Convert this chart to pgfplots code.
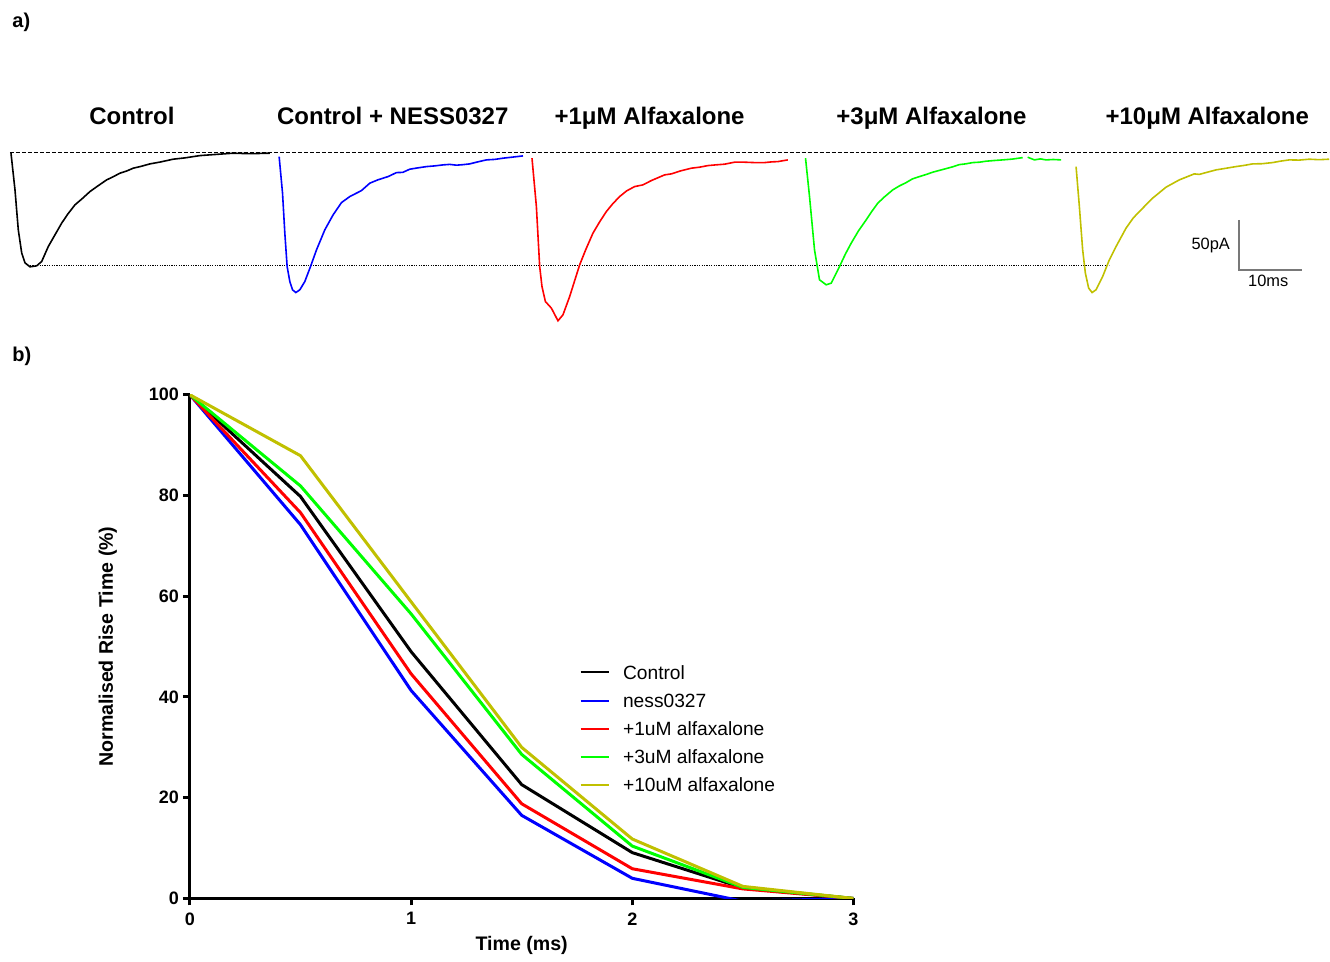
\documentclass[border=0pt]{standalone}
\usepackage{fontspec}
\setmainfont{Liberation Sans}
\usepackage{pgfplots}
\pgfplotsset{compat=1.18}
\definecolor{cblue}{RGB}{0,0,255}
\definecolor{cred}{RGB}{255,0,0}
\definecolor{cgreen}{RGB}{0,255,0}
\definecolor{colive}{RGB}{192,192,0}
\definecolor{cbar}{RGB}{120,120,120}
\begin{document}
\begin{tikzpicture}
% ---------- panel a: current traces (x in px-units, y in pA, baseline 0) ----------
\begin{axis}[at={(0,0)}, anchor=south west, width=665pt, height=478.5pt, scale only axis,
  xmin=0, xmax=1330, ymin=-804, ymax=153, hide axis, clip=false]
\path (axis cs:0,-804) rectangle (axis cs:1330,153);
\addplot[black, line width=0.5pt, dash pattern=on 2pt off 1pt] coordinates {(10,0) (1330,0)};
\addplot[black, line width=0.5pt, dash pattern=on 0.6pt off 0.6pt] coordinates {(30,-113) (1110,-113)};
\addplot[black, line width=0.8pt] coordinates {(11,-0.3) (15,-37) (18.3,-77) (21.7,-100) (25,-110) (30,-114) (36.7,-113) (41.7,-108.7) (48.3,-93.7) (55,-82) (61.7,-70.3) (68,-61) (75,-52) (82,-46) (90,-38.7) (98,-33) (106.7,-27) (113,-24) (120,-20.3) (127,-18) (133.3,-15.3) (141,-13.5) (150,-11) (160,-9.2) (173.3,-6.3) (185,-5) (200,-2.7) (215,-1.6) (233.3,-0.3) (250,-0.8) (270,-0.3)};
\addplot[cblue, line width=0.8pt] coordinates {(279.3,-3.7) (282.7,-40.3) (285,-80.3) (287.3,-113.7) (290,-128.7) (292.7,-137) (296,-139.7) (300,-137) (305,-128.7) (310.7,-113.7) (316.7,-97) (325,-77) (333.3,-62) (341.7,-49.7) (350,-43.7) (361.7,-37.7) (370,-30.3) (378,-27) (388.3,-23.7) (396.7,-19.7) (403,-19.5) (410,-16.3) (418,-15) (426.7,-13.7) (435,-13) (443.3,-12) (450,-11.5) (456.7,-12.3) (463,-11.8) (470,-11) (478,-9) (486.7,-7) (495,-6.5) (503.3,-5.3) (513,-4.2) (523.3,-3)};
\addplot[cred, line width=0.8pt] coordinates {(532.3,-5.3) (536.7,-53.7) (540,-113.7) (542.3,-133.7) (545.7,-148.7) (551.7,-155.3) (558.3,-168) (563.3,-162) (570,-143.7) (580,-112) (586,-97) (593.3,-80.3) (600,-69) (606.7,-58.7) (613,-51) (620,-43.7) (627,-38) (635,-33.7) (643.3,-32) (651.7,-27.7) (658,-25) (665,-22) (671.7,-21) (681,-18) (691.7,-15.3) (700,-14.3) (708.3,-12.7) (716,-12) (725,-11.3) (735,-9.3) (745,-9.3) (755,-9.7) (765,-9.7) (772,-9) (778.3,-8.7) (788.3,-7)};
\addplot[cgreen, line width=0.8pt] coordinates {(806,-5.3) (810,-43.7) (815,-97) (820,-127) (826.7,-132) (831.7,-130.3) (840,-113.7) (846,-101) (851.7,-90.3) (859,-78) (866.7,-67) (872,-59) (878.3,-50.3) (885,-44) (893.3,-37) (900,-33) (906.7,-29.7) (913,-26) (920,-23.7) (927,-21.5) (933.3,-19.3) (940,-17.5) (946.7,-15.7) (953,-14) (960,-11.7) (966,-11) (973.3,-9.7) (980,-9.3) (986.7,-8.3) (995,-7.6) (1003.3,-7) (1013,-6.2) (1023.3,-4.7)};
\addplot[cgreen, line width=0.8pt] coordinates {(1028.3,-4.3) (1035,-7) (1041,-6) (1046.7,-7) (1054,-6.6) (1061.7,-7)};
\addplot[colive, line width=0.8pt] coordinates {(1076.7,-13.7) (1080,-53.7) (1083.3,-97) (1086,-120.3) (1089.3,-135.3) (1092.7,-139.7) (1096.7,-137) (1103.3,-123.7) (1110,-107) (1116.7,-93.7) (1126.7,-75.3) (1134,-65) (1141.7,-57) (1153.3,-45.3) (1166.7,-34.3) (1180,-27) (1190,-23) (1195,-21) (1200,-21.5) (1206.7,-19.7) (1216.7,-17) (1226,-15.5) (1236.7,-13.7) (1245,-12.5) (1253.3,-11) (1263,-10.8) (1273.3,-9.7) (1281,-8.3) (1290,-7) (1300,-7.2) (1310,-6.3) (1320,-6.8) (1330,-6.3)};
% scale bar
\addplot[cbar, line width=1pt] coordinates {(1240,-67) (1240,-117) (1303,-117)};
\node[anchor=east, inner sep=0pt, font=\fontsize{8.2}{9}\selectfont] at (axis cs:1231,-93) {50pA};
\node[anchor=center, inner sep=0pt, font=\fontsize{8.2}{9}\selectfont] at (axis cs:1269,-128) {10ms};
% titles
\node[anchor=base, inner sep=0pt, font=\fontsize{12}{14}\selectfont\bfseries] at (axis cs:132,28.5) {Control};
\node[anchor=base, inner sep=0pt, font=\fontsize{12}{14}\selectfont\bfseries] at (axis cs:393,28.5) {Control + NESS0327};
\node[anchor=base, inner sep=0pt, font=\fontsize{12}{14}\selectfont\bfseries] at (axis cs:650,28.5) {+1μM Alfaxalone};
\node[anchor=base, inner sep=0pt, font=\fontsize{12}{14}\selectfont\bfseries] at (axis cs:932,28.5) {+3μM Alfaxalone};
\node[anchor=base, inner sep=0pt, font=\fontsize{12}{14}\selectfont\bfseries] at (axis cs:1208,28.5) {+10μM Alfaxalone};
\node[anchor=west, inner sep=0pt, font=\fontsize{10}{12}\selectfont\bfseries] at (axis cs:12,131) {a)};
\node[anchor=west, inner sep=0pt, font=\fontsize{10}{12}\selectfont\bfseries] at (axis cs:12,-204) {b)};
\end{axis}
% ---------- panel b ----------
\begin{axis}[at={(95pt,29pt)}, anchor=south west, width=332pt, height=252pt, scale only axis,
  xmin=0, xmax=3, ymin=0, ymax=100, axis lines=left,
  axis line style={line width=1.5pt, -},
  xtick={0,1,2,3}, ytick={0,20,40,60,80,100},
  tick align=outside, major tick length=3.5pt,
  tick style={line width=1.5pt, black},
  /pgf/number format/assume math mode=true,
  ticklabel style={font=\fontsize{9}{10}\selectfont\bfseries},
  yticklabel style={xshift=1.5pt},
  xlabel={Time (ms)}, ylabel={Normalised Rise Time (\%)},
  every axis x label/.style={at={(axis description cs:0.5,-0.093)}, anchor=center, font=\fontsize{9.8}{11}\selectfont\bfseries},
  every axis y label/.style={at={(axis description cs:-0.1235,0.5)}, rotate=90, anchor=center, font=\fontsize{9.8}{11}\selectfont\bfseries},
  legend style={at={(axis cs:1.76,47.4)}, anchor=north west, draw=none, fill=none, inner sep=0pt,
    font=\fontsize{9.6}{11}\selectfont, nodes={text height=7pt, text depth=2pt, inner ysep=2.55pt, inner xsep=3.25pt},
    /tikz/every odd column/.append style={column sep=3.5pt}},
  legend cell align=left,
  legend image code/.code={\draw[#1, line width=1pt] (0pt,0.9pt) -- (14pt,0.9pt);},
  every axis plot/.append style={line width=1.5pt}]
\addplot[black] coordinates {(0,100) (0.5,79.8) (1,49.0) (1.5,22.6) (2,9.1) (2.5,2.1) (3,0)};
\addplot[cblue] coordinates {(0,100) (0.5,74.2) (1,41.3) (1.5,16.5) (2,4.0) (2.5,-0.55) (3,0)};
\addplot[cred] coordinates {(0,100) (0.5,76.6) (1,44.6) (1.5,18.8) (2,5.9) (2.5,1.9) (3,0)};
\addplot[cgreen] coordinates {(0,100) (0.5,81.9) (1,56.5) (1.5,28.6) (2,10.4) (2.5,2.2) (3,0)};
\addplot[colive] coordinates {(0,100) (0.5,87.9) (1,58.9) (1.5,30.0) (2,11.8) (2.5,2.4) (3,0)};
\legend{Control, ness0327, +1uM alfaxalone, +3uM alfaxalone, +10uM alfaxalone}
\end{axis}
\end{tikzpicture}
\end{document}
